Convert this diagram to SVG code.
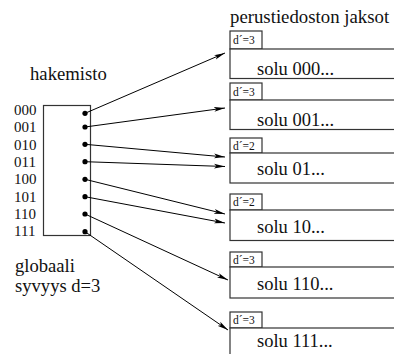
<svg xmlns="http://www.w3.org/2000/svg" width="394" height="354" viewBox="0 0 394 354">
<style>
.box{fill:#fff;stroke:#333;stroke-width:1.2}
.dot{fill:#000}
.conn line{stroke:#000;stroke-width:1;marker-end:url(#ah)}
</style>
<defs>
<marker id="ah" markerWidth="12" markerHeight="6" refX="11" refY="3" orient="auto" markerUnits="userSpaceOnUse">
<path d="M0,0.6 L11,3 L0,5.4 L2.5,3 Z" fill="#000"/>
</marker>
</defs>
<text font-family="Liberation Serif" font-size="18.8" fill="#111" x="230" y="23">perustiedoston jaksot</text>
<text font-family="Liberation Serif" font-size="18.7" fill="#111" x="30" y="80">hakemisto</text>
<text font-family="Liberation Serif" font-size="18.6" fill="#111" x="15" y="272">globaali</text>
<text font-family="Liberation Serif" font-size="18.6" fill="#111" x="15" y="292">syvyys d=3</text>
<g id="hakemisto">
<rect class="box" x="43.5" y="105.5" width="47" height="130"/>
<g font-family="Liberation Serif" font-size="15" fill="#111">
<text x="14" y="115">000</text>
<text x="14" y="132">001</text>
<text x="14" y="149.5">010</text>
<text x="14" y="167">011</text>
<text x="14" y="184">100</text>
<text x="14" y="201.5">101</text>
<text x="14" y="219">110</text>
<text x="14" y="236">111</text>
</g>
<circle class="dot" cx="85" cy="113.3" r="2.6"/>
<circle class="dot" cx="85" cy="127" r="2.6"/>
<circle class="dot" cx="85" cy="144.3" r="2.6"/>
<circle class="dot" cx="85" cy="161.7" r="2.6"/>
<circle class="dot" cx="85" cy="179.3" r="2.6"/>
<circle class="dot" cx="85" cy="196.7" r="2.6"/>
<circle class="dot" cx="85" cy="214" r="2.6"/>
<circle class="dot" cx="85" cy="231.7" r="2.6"/>
</g>
<g id="jakso000">
<rect class="box" x="230" y="31" width="32" height="18"/>
<text font-family="Liberation Serif" font-size="11.5" fill="#111" x="233" y="44">d´=3</text>
<rect class="box" x="230" y="49" width="180" height="29.5"/>
<text font-family="Liberation Serif" font-size="18.5" fill="#111" x="257" y="75">solu 000...</text>
</g>
<g id="jakso001">
<rect class="box" x="230" y="83" width="32" height="17"/>
<text font-family="Liberation Serif" font-size="11.5" fill="#111" x="233" y="95.5">d´=3</text>
<rect class="box" x="230" y="100" width="180" height="29.5"/>
<text font-family="Liberation Serif" font-size="18.5" fill="#111" x="257" y="126">solu 001...</text>
</g>
<g id="jakso01">
<rect class="box" x="230" y="138" width="32" height="15"/>
<text font-family="Liberation Serif" font-size="11.5" fill="#111" x="233" y="149.5">d´=2</text>
<rect class="box" x="230" y="153" width="180" height="30"/>
<text font-family="Liberation Serif" font-size="18.5" fill="#111" x="257" y="175">solu 01...</text>
</g>
<g id="jakso10">
<rect class="box" x="230" y="194" width="32" height="16"/>
<text font-family="Liberation Serif" font-size="11.5" fill="#111" x="233" y="206">d´=2</text>
<rect class="box" x="230" y="210" width="180" height="30.5"/>
<text font-family="Liberation Serif" font-size="18.5" fill="#111" x="257" y="233">solu 10...</text>
</g>
<g id="jakso110">
<rect class="box" x="230" y="252" width="32" height="15"/>
<text font-family="Liberation Serif" font-size="11.5" fill="#111" x="233" y="263.5">d´=3</text>
<rect class="box" x="230" y="267" width="180" height="31"/>
<text font-family="Liberation Serif" font-size="18.5" fill="#111" x="257" y="290">solu 110...</text>
</g>
<g id="jakso111">
<rect class="box" x="230" y="312" width="32" height="16"/>
<text font-family="Liberation Serif" font-size="11.5" fill="#111" x="233" y="324">d´=3</text>
<rect class="box" x="230" y="328" width="180" height="40"/>
<text font-family="Liberation Serif" font-size="18.5" fill="#111" x="257" y="347">solu 111...</text>
</g>
<g id="connectors" class="conn">
<line x1="85" y1="113.3" x2="225" y2="53"/>
<line x1="85" y1="127" x2="225" y2="108"/>
<line x1="85" y1="144.3" x2="225" y2="157"/>
<line x1="85" y1="161.7" x2="225" y2="166.5"/>
<line x1="85" y1="179.3" x2="225" y2="214"/>
<line x1="85" y1="196.7" x2="225" y2="223"/>
<line x1="85" y1="214" x2="228" y2="280"/>
<line x1="85" y1="231.7" x2="228" y2="330"/>
</g>
</svg>
